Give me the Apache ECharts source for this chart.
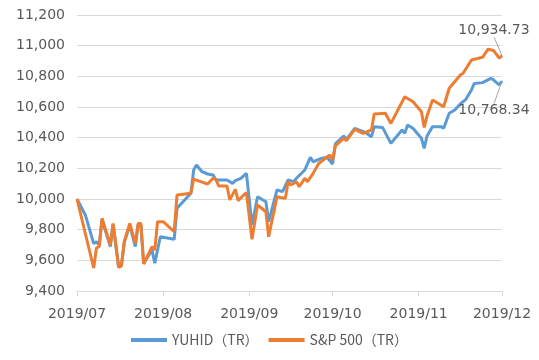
<!DOCTYPE html>
<html>
<head>
<meta charset="utf-8">
<script src="https://cdn.jsdelivr.net/npm/echarts@6/dist/echarts.min.js"></script>
<style>html,body{margin:0;padding:0;background:#fff}#c{width:539px;height:360px}</style>
</head>
<body>
<div id="c"></div>
<script>
// ---- data ----
const seriesNames = ['YUHID（TR）', 'S&P 500（TR）'];
const yTicks = [9400, 9600, 9800, 10000, 10200, 10400, 10600, 10800, 11000, 11200];

const yuhidDates = ['07/01','07/04','07/07','07/08','07/09','07/10','07/13','07/14','07/16','07/17','07/18','07/20','07/22','07/23','07/24','07/25','07/28','07/29','07/31',
  '08/05','08/06','08/11','08/12','08/13','08/15','08/17','08/19','08/20','08/24','08/26','08/27','08/29','08/31',
  '09/02','09/04','09/07','09/08','09/11','09/13','09/15','09/17','09/18','09/21','09/23','09/24','09/27','09/29',
  '10/01','10/02','10/05','10/06','10/09','10/13','10/15','10/16','10/19','10/22','10/26','10/27','10/28','10/30','10/31',
  '11/02','11/03','11/04','11/06','11/09','11/10','11/12','11/14','11/16','11/18','11/20','11/21','11/24','11/27','11/28','11/30','12/01'];
const yuhidValues = [10000,9896,9710,9721,9700,9865,9690,9835,9555,9570,9715,9830,9690,9830,9830,9580,9667,9581,9754,
  9737,9940,10037,10190,10222,10178,10163,10156,10124,10124,10102,10120,10135,10167,
  9830,10015,9982,9852,10059,10048,10124,10113,10135,10189,10272,10243,10265,10272,
  10228,10359,10411,10389,10461,10432,10406,10471,10467,10363,10450,10428,10483,10460,10439,
  10396,10330,10411,10472,10472,10461,10559,10580,10620,10650,10711,10754,10759,10787,10776,10744,10768.34];

const spDates = ['07/01','07/07','07/08','07/09','07/10','07/13','07/14','07/16','07/17','07/18','07/20','07/22','07/23','07/24','07/25','07/28','07/29','07/30',
  '08/01','08/05','08/06','08/11','08/12','08/15','08/17','08/19','08/20','08/21','08/24','08/25','08/27','08/28','08/30','08/31',
  '09/02','09/04','09/07','09/08','09/11','09/14','09/15','09/16','09/18','09/19','09/21','09/22','09/24','09/26','09/28','09/30',
  '10/01','10/02','10/05','10/06','10/09','10/12','10/15','10/16','10/20','10/22','10/27','10/28','10/30',
  '11/02','11/03','11/04','11/06','11/10','11/12','11/13','11/16','11/17','11/20','11/24','11/26','11/28','11/30','12/01'];
const spValues = [10000,9550,9680,9690,9874,9700,9841,9555,9563,9721,9841,9711,9841,9841,9576,9689,9667,9852,
  9852,9787,10026,10037,10130,10110,10098,10135,10128,10085,10085,9994,10063,9989,10026,10041,
  9737,9961,9917,9754,10015,10004,10113,10091,10113,10080,10135,10113,10167,10232,10259,10287,
  10254,10346,10396,10380,10454,10428,10450,10554,10559,10493,10667,10656,10634,
  10569,10467,10541,10646,10602,10722,10744,10809,10820,10907,10924,10977,10968,10918,10934.73];

// ---- build calendar-day category axis ----
const pad = n => (n < 10 ? '0' : '') + n;
const categories = [];
for (let t = Date.UTC(2019, 6, 1); t <= Date.UTC(2019, 11, 1); t += 86400000) {
  const d = new Date(t);
  categories.push(d.getUTCFullYear() + '/' + pad(d.getUTCMonth() + 1) + '/' + pad(d.getUTCDate()));
}
function toSeries(dates, values) {
  const map = {};
  dates.forEach((d, i) => { map['2019/' + d] = values[i]; });
  return categories.map(c => (c in map ? map[c] : null));
}
const fmt2 = v => v.toLocaleString('en-US', {minimumFractionDigits: 2, maximumFractionDigits: 2});
function withEndLabel(arr, pos, color) {
  const last = arr.length - 1;
  const out = arr.slice();
  out[last] = {
    value: arr[last], symbol: 'circle', symbolSize: 1,
    itemStyle: {color: color},
    label: {show: true, position: pos, formatter: p => fmt2(p.value)}
  };
  return out;
}
const isMonthStart = (i, v) => v.slice(8) === '01';
const font = 'DejaVu Sans';
const txt = '#595959';
const colors = ['#5B9BD5', '#ED7D31'];

const chart = echarts.init(document.getElementById('c'), null, {renderer: 'canvas'});
chart.setOption({
  animation: false,
  grid: {left: 77, right: 37, top: 15, bottom: 69, containLabel: false},
  legend: {
    bottom: 8, left: 'center', itemWidth: 36, itemHeight: 4, itemGap: 10, icon: 'rect',
    textStyle: {color: txt, fontSize: 14, fontFamily: 'Noto Sans CJK JP'},
    data: seriesNames
  },
  xAxis: {
    type: 'category', boundaryGap: false, data: categories,
    axisLine: {lineStyle: {color: '#D9D9D9', width: 1}},
    axisTick: {show: true, interval: isMonthStart, length: 5, lineStyle: {color: '#D9D9D9'}},
    axisLabel: {interval: isMonthStart, formatter: v => v.slice(0, 7), color: txt, fontSize: 14, fontFamily: font, margin: 16, showMaxLabel: true}
  },
  yAxis: {
    type: 'value', min: yTicks[0], max: yTicks[yTicks.length - 1], interval: 200,
    axisLine: {show: false}, axisTick: {show: false},
    splitLine: {lineStyle: {color: '#D9D9D9', width: 1}},
    axisLabel: {color: txt, fontSize: 14, fontFamily: font, margin: 12, formatter: v => v.toLocaleString('en-US')}
  },
  series: [
    {
      name: seriesNames[0], type: 'line', symbol: 'none', showSymbol: true, connectNulls: true,
      data: withEndLabel(toSeries(yuhidDates, yuhidValues), 'bottom', colors[0]),
      lineStyle: {color: colors[0], width: 3}, itemStyle: {color: colors[0]},
      label: {color: txt, fontSize: 14, fontFamily: font},
      labelLayout: {dx: -8, dy: 17},
      labelLine: {show: true, lineStyle: {color: '#A6A6A6', width: 1}}
    },
    {
      name: seriesNames[1], type: 'line', symbol: 'none', showSymbol: true, connectNulls: true,
      data: withEndLabel(toSeries(spDates, spValues), 'top', colors[1]),
      lineStyle: {color: colors[1], width: 3}, itemStyle: {color: colors[1]},
      label: {color: txt, fontSize: 14, fontFamily: font},
      labelLayout: {dx: -8, dy: -13},
      labelLine: {show: true, lineStyle: {color: '#A6A6A6', width: 1}}
    }
  ]
});
</script>
</body>
</html>
